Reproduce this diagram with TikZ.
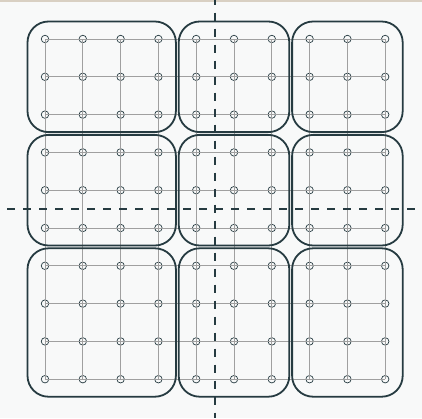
\documentclass[tikz,border=0pt]{standalone}
\usepackage{tikz}
\usetikzlibrary{positioning}
\definecolor{slate}{HTML}{263B41}
\definecolor{gridgray}{HTML}{A0A0A0}
\definecolor{paper}{HTML}{F8F9F9}
\definecolor{topline}{HTML}{D9D0C3}

\begin{document}
\begin{tikzpicture}[x=1pt, y=-1pt,
    site/.style={draw=slate, circle, inner sep=0pt, minimum size=7.5pt, line width=0.7pt},
    link/.style={draw=gridgray, line width=1pt},
    block/.style={draw=slate, line width=1.8pt, rounded corners=21pt},
    cut/.style={draw=slate, line width=2pt, dash pattern=on 8pt off 8pt}]
    \fill[paper] (0,0) rectangle (422,418);
    \useasboundingbox (0,0) rectangle (422,418);
    \fill[topline] (0,0) rectangle (422,1.5);

    % lattice sites
    \foreach \i in {0,...,9}
        \foreach \j in {0,...,9}
            \node[site] (s\i\j) at (45+37.8*\i, 39+37.8*\j) {};

    % bonds
    \foreach \k in {0,...,9} {
        \draw[link] (s0\k.center) -- (s9\k.center);
        \draw[link] (s\k0.center) -- (s\k9.center);
    }

    % blocks
    \foreach \a/\b in {0/3, 4/6, 7/9}
        \foreach \c/\d in {0/2, 3/5, 6/9}
            \draw[block] ([shift={(-17.5,-17.5)}]s\a\c.center) rectangle ([shift={(17.5,17.5)}]s\b\d.center);

    % cuts
    \coordinate (vtop) at (214.8,0);
    \coordinate (vbot) at (214.8,418);
    \coordinate (hleft) at (7.3,209.1);
    \coordinate (hright) at (422,209.1);
    \draw[cut, dash phase=3.3pt] (vtop) -- (vbot);
    \draw[cut] (hleft) -- (hright);
\end{tikzpicture}
\end{document}
